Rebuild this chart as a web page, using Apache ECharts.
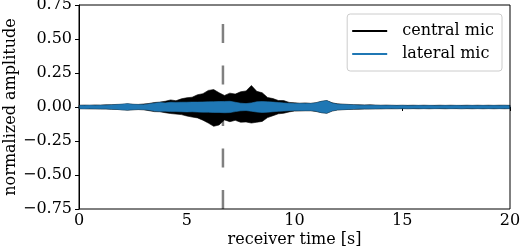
<!DOCTYPE html>
<html>
<head>
<meta charset="utf-8">
<script src="https://cdn.jsdelivr.net/npm/echarts@6/dist/echarts.min.js"></script>
<style>html,body{margin:0;padding:0;background:#fff}#c{width:520px;height:250px}</style>
</head>
<body>
<div id="c"></div>
<script>
// sample times [s]
const times = [0,0.25,0.5,0.75,1,1.25,1.5,1.75,2,2.25,2.5,2.75,3,3.25,3.5,3.75,4,4.25,4.5,4.75,
  5,5.25,5.5,5.75,6,6.25,6.5,6.75,7,7.25,7.5,7.75,8,8.25,8.5,8.75,9,9.25,9.5,9.75,
  10,10.25,10.5,10.75,11,11.25,11.5,11.75,12,12.25,12.5,12.75,13,13.25,13.5,13.75,14,14.25,14.5,14.75,
  15,15.25,15.5,15.75,16,16.25,16.5,16.75,17,17.25,17.5,17.75,18,18.25,18.5,18.75,19,19.25,19.5,19.75,20];
// envelope of central mic (upper / lower)
const centralUpper = [0.013,0.014,0.013,0.015,0.014,0.016,0.017,0.019,0.020,0.024,0.020,0.019,0.022,0.026,0.033,0.036,0.042,0.052,0.046,0.060,
  0.068,0.072,0.090,0.098,0.122,0.128,0.105,0.085,0.102,0.095,0.112,0.118,0.158,0.115,0.105,0.070,0.062,0.048,0.047,0.034,
  0.031,0.028,0.030,0.027,0.032,0.042,0.047,0.031,0.023,0.021,0.019,0.017,0.016,0.015,0.016,0.014,0.013,0.014,0.013,0.012,
  0.013,0.012,0.013,0.012,0.013,0.012,0.012,0.013,0.012,0.013,0.012,0.012,0.013,0.012,0.013,0.012,0.013,0.012,0.013,0.013,0.012];
const centralLower = [-0.013,-0.013,-0.014,-0.014,-0.015,-0.015,-0.017,-0.018,-0.021,-0.023,-0.021,-0.019,-0.021,-0.027,-0.034,-0.035,-0.042,-0.048,-0.052,-0.056,
  -0.066,-0.074,-0.080,-0.097,-0.118,-0.142,-0.132,-0.095,-0.108,-0.098,-0.112,-0.110,-0.118,-0.112,-0.106,-0.078,-0.064,-0.050,-0.046,-0.036,
  -0.030,-0.029,-0.028,-0.028,-0.033,-0.042,-0.046,-0.030,-0.022,-0.020,-0.018,-0.017,-0.016,-0.015,-0.015,-0.014,-0.014,-0.013,-0.013,-0.013,
  -0.012,-0.013,-0.012,-0.013,-0.012,-0.013,-0.012,-0.012,-0.013,-0.012,-0.012,-0.013,-0.012,-0.013,-0.012,-0.013,-0.012,-0.013,-0.012,-0.013,-0.012];
// envelope of lateral mic (upper / lower)
const lateralUpper = [0.011,0.011,0.012,0.011,0.012,0.013,0.015,0.017,0.020,0.023,0.019,0.017,0.017,0.022,0.028,0.033,0.030,0.035,0.034,0.035,
  0.035,0.036,0.036,0.037,0.038,0.039,0.040,0.041,0.042,0.035,0.028,0.025,0.030,0.038,0.040,0.038,0.036,0.033,0.030,0.027,
  0.025,0.025,0.025,0.025,0.030,0.040,0.046,0.028,0.020,0.018,0.016,0.015,0.013,0.013,0.012,0.012,0.011,0.011,0.011,0.010,
  0.011,0.010,0.010,0.011,0.010,0.011,0.010,0.010,0.011,0.010,0.011,0.010,0.010,0.011,0.010,0.011,0.010,0.011,0.010,0.011,0.010];
const lateralLower = [-0.011,-0.012,-0.011,-0.012,-0.012,-0.013,-0.015,-0.016,-0.020,-0.022,-0.019,-0.017,-0.018,-0.022,-0.029,-0.032,-0.031,-0.034,-0.034,-0.035,
  -0.036,-0.035,-0.037,-0.038,-0.038,-0.040,-0.040,-0.042,-0.041,-0.034,-0.028,-0.026,-0.031,-0.037,-0.040,-0.038,-0.035,-0.032,-0.030,-0.027,
  -0.025,-0.026,-0.025,-0.025,-0.030,-0.041,-0.045,-0.027,-0.020,-0.018,-0.016,-0.014,-0.013,-0.013,-0.012,-0.012,-0.011,-0.011,-0.010,-0.011,
  -0.010,-0.011,-0.010,-0.010,-0.011,-0.010,-0.011,-0.010,-0.010,-0.011,-0.010,-0.011,-0.010,-0.010,-0.011,-0.010,-0.011,-0.010,-0.011,-0.010,-0.011];
const xTicks = [0,5,10,15,20];
const yTicks = [-0.75,-0.5,-0.25,0,0.25,0.5,0.75];
const eventTime = 6.68;
const seriesNames = ['central mic','lateral mic'];

const FONT = 'DejaVu Serif';
const yMin = yTicks[0], yMax = yTicks[yTicks.length-1];
// one filled polygon between lower and upper envelope, placed through the axes (api.coord)
function band(name, lower, upper, color, z){
  return {name:name,type:'custom',z:z,animation:false,silent:true,
    itemStyle:{color:color},
    data:[[times[0],0]],
    encode:{x:0,y:1},
    renderItem:function(params, api){
      const pts = [];
      for (let i=0;i<times.length;i++) pts.push(api.coord([times[i],upper[i]]));
      for (let i=times.length-1;i>=0;i--) pts.push(api.coord([times[i],lower[i]]));
      return {type:'polygon',shape:{points:pts},
        style:{fill:color,stroke:color,lineWidth:0.6}};
    }};
}
const eventLine = {name:'event',type:'custom',z:2,animation:false,silent:true,
  data:[[eventTime,0]],encode:{x:0,y:1},
  renderItem:function(params, api){
    const a = api.coord([api.value(0), yMin]);
    const b = api.coord([api.value(0), yMax]);
    return {type:'line',shape:{x1:a[0],y1:a[1],x2:b[0],y2:b[1]},
      style:{stroke:'#808080',lineWidth:2.5,lineDash:[19,22.5],lineDashOffset:0}};
  }};
const chart = echarts.init(document.getElementById('c'),null,{renderer:'canvas'});
const series = [
  eventLine,
  band(seriesNames[0], centralLower, centralUpper,'#000000',3),
  band(seriesNames[1], lateralLower, lateralUpper,'#1f77b4',4)
];
chart.setOption({
  animation:false,
  grid:{left:79,right:10,top:5,bottom:41,containLabel:false,outerBoundsMode:'none',
    show:true,borderColor:'#000',borderWidth:1,z:10},
  legend:{data:seriesNames.map(n=>({name:n})),orient:'vertical',right:18,top:14,z:12,
    icon:'rect',itemWidth:35,itemHeight:2,itemGap:5,padding:[8,8,8,5],
    borderColor:'#cccccc',borderWidth:1,borderRadius:3,backgroundColor:'rgba(255,255,255,0.8)',
    textStyle:{fontFamily:FONT,fontSize:16,color:'#000',lineHeight:18,padding:[0,0,0,10]}},
  xAxis:{type:'value',min:xTicks[0],max:xTicks[xTicks.length-1],interval:5,
    name:'receiver time [s]',nameLocation:'middle',nameGap:23,nameMoveOverlap:false,
    nameTextStyle:{fontFamily:FONT,fontSize:16,color:'#000',verticalAlign:'top'},
    axisLine:{show:true,lineStyle:{color:'#000'}},
    axisTick:{show:true,inside:false,length:4,lineStyle:{color:'#000'}},
    axisLabel:{fontFamily:FONT,fontSize:16,color:'#000',margin:4},
    splitLine:{show:false}},
  yAxis:{type:'value',min:yMin,max:yMax,interval:0.25,
    name:'normalized amplitude',nameLocation:'middle',nameGap:60,nameMoveOverlap:false,
    nameTextStyle:{fontFamily:FONT,fontSize:16,color:'#000'},
    axisLine:{show:true,lineStyle:{color:'#000'}},
    axisTick:{show:true,inside:false,length:4,lineStyle:{color:'#000'}},
    axisLabel:{fontFamily:FONT,fontSize:16,color:'#000',margin:7,
      formatter:(v)=>v.toFixed(2).replace('-','\u2212')},
    splitLine:{show:false}},
  series:series
});
</script>
</body>
</html>
